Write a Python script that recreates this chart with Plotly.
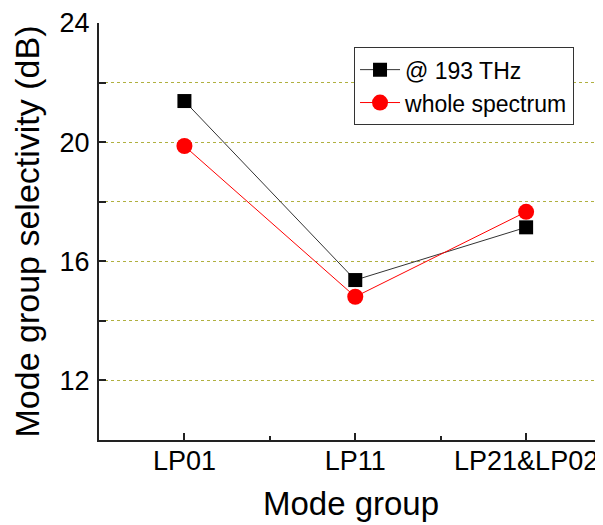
import plotly.graph_objects as go

# mode groups and selectivity values (dB)
groups = ["LP01", "LP11", "LP21&LP02"]
sel_193 = [21.38, 15.37, 17.14]
sel_whole = [19.87, 14.81, 17.66]

y_ticks = [10, 12, 14, 16, 18, 20, 22, 24]
y_labels = ["", "12", "", "16", "", "20", "", "24"]

fig = go.Figure()

fig.add_trace(go.Scatter(
    x=[0, 1, 2], y=sel_193,
    mode="lines+markers",
    name="@ 193 THz",
    line=dict(color="#333333", width=1),
    marker=dict(symbol="square", size=14, color="black"),
))

fig.add_trace(go.Scatter(
    x=[0, 1, 2], y=sel_whole,
    mode="lines+markers",
    name="whole spectrum",
    line=dict(color="red", width=1),
    marker=dict(symbol="circle", size=16, color="red"),
))

# page body has an 8px margin, so the figure is a bit smaller than the window
fig.update_layout(
    width=595, height=517,
    margin=dict(l=91, r=0, t=15, b=85),
    paper_bgcolor="white",
    plot_bgcolor="white",
    font=dict(family="Liberation Sans, Arial, sans-serif", color="black"),
    legend=dict(
        x=0.506, y=0.942, xanchor="left", yanchor="top",
        bordercolor="#333333", borderwidth=1,
        font=dict(size=23),
        tracegroupgap=0,
        itemwidth=40,
    ),
)

fig.update_xaxes(
    range=[-0.5, 2.45],
    tickvals=[0, 1, 2], ticktext=groups,
    ticks="inside", ticklen=7, tickwidth=1.5, tickcolor="#222222",
    minor=dict(tickvals=[0.5, 1.5], ticks="inside", ticklen=4, tickwidth=1.5, tickcolor="#222222"),
    showline=True, linecolor="#222222", linewidth=2,
    showgrid=False, zeroline=False,
    automargin=False,
    tickfont=dict(size=27),
    ticklabelstandoff=-4,
    title=dict(text="Mode group", font=dict(size=33), standoff=16),
)

fig.update_yaxes(
    range=[10, 24],
    tickvals=y_ticks, ticktext=y_labels,
    ticks="inside", ticklen=7, tickwidth=1.5, tickcolor="#222222",
    showline=True, linecolor="#222222", linewidth=2,
    showgrid=True, gridcolor="#b0b040", griddash="dot", gridwidth=1,
    zeroline=False,
    automargin=False,
    tickfont=dict(size=27),
    ticklabelstandoff=2,
    title=dict(text="Mode group selectivity (dB)", font=dict(size=34), standoff=16),
)

fig.write_html("out.html")
